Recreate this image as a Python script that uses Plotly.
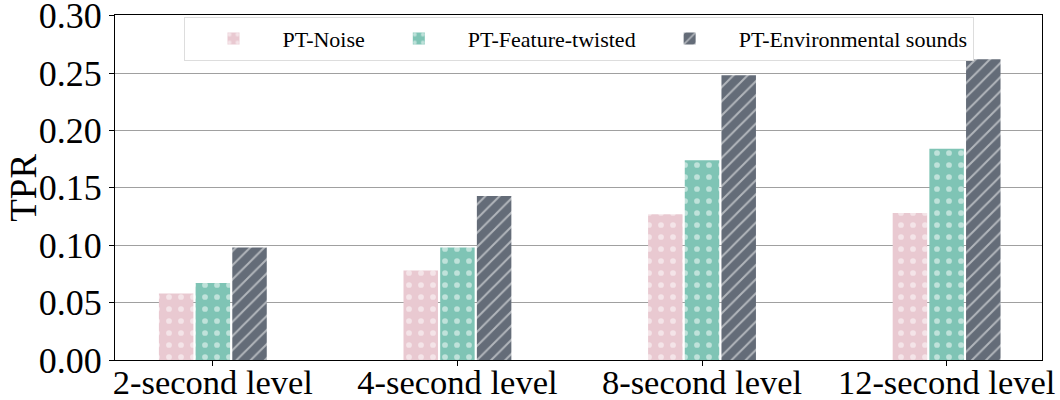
import plotly.graph_objects as go

categories = ["2-second level", "4-second level", "8-second level", "12-second level"]
series_names = ["PT-Noise", "PT-Feature-twisted", "PT-Environmental sounds"]
noise = [0.058, 0.078, 0.127, 0.128]
feature_twisted = [0.067, 0.098, 0.174, 0.184]
environmental = [0.098, 0.143, 0.248, 0.262]
y_ticks = [0.00, 0.05, 0.10, 0.15, 0.20, 0.25, 0.30]

colors = ["#e9c9d1", "#7fc4b5", "#646c78"]
patterns = [".", ".", "/"]
values = [noise, feature_twisted, environmental]

fig = go.Figure()
for name, vals, col, pat in zip(series_names, values, colors, patterns):
    fig.add_trace(go.Bar(
        x=categories, y=vals, name=name,
        marker=dict(color=col, line=dict(width=0),
                    pattern=dict(shape=pat, fgcolor="white", bgcolor=col,
                                 size=10 if pat == "/" else 12,
                                 solidity=0.2 if pat == "/" else 0.18,
                                 fillmode="overlay")),
    ))

font_family = "Liberation Serif, Times New Roman, serif"
fig.update_layout(
    width=1060, height=400,
    margin=dict(l=115, r=18, t=15, b=40),
    paper_bgcolor="white", plot_bgcolor="white",
    barmode="group", bargap=0.55, bargroupgap=0.06,
    font=dict(family=font_family, color="black"),
    showlegend=True,
    legend=dict(orientation="h", x=0.5, xanchor="center", y=0.995, yanchor="top",
                font=dict(size=22, family=font_family),
                bgcolor="white", bordercolor="#dddddd", borderwidth=1,
                itemwidth=88, traceorder="normal"),
    annotations=[dict(text="TPR", textangle=-90, xref="paper", yref="paper",
                      x=-0.099, y=0.5, xanchor="center", yanchor="middle",
                      showarrow=False, font=dict(size=37, family=font_family))],
)
fig.update_xaxes(
    range=[-0.4, 3.39], showline=True, linecolor="black", linewidth=1.2, mirror=True,
    ticks="outside", ticklen=5, tickcolor="black", automargin=False,
    ticklabelstandoff=-14, ticklabeloverflow="allow",
    tickfont=dict(size=34.5, family=font_family), showgrid=False,
)
fig.update_yaxes(
    range=[0, 0.3006], tickvals=y_ticks, ticktext=[f"{v:.2f}" for v in y_ticks],
    showline=True, linecolor="black", linewidth=1.2, mirror=True,
    ticks="outside", ticklen=5, tickcolor="black", automargin=False,
    ticklabeloverflow="allow",
    tickfont=dict(size=36, family=font_family),
    showgrid=True, gridcolor="#a0a0a0", gridwidth=1, zeroline=False,
)

fig.write_html("out.html")
